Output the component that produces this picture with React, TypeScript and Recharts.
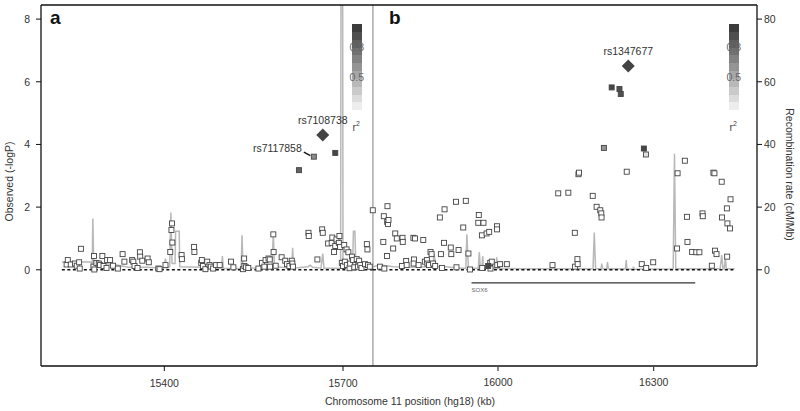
import React from 'react';
import { ComposedChart, Line, ReferenceLine, Scatter, XAxis, YAxis } from 'recharts';

const FONT = '"Liberation Sans", Arial, Helvetica, sans-serif';

// panel a — SNPs with low LD: [position (kb), -logP]
const snpsA: [number, number][] = [
  [15236, 0.17], [15238, 0.31], [15243, 0.17], [15250, 0.2], [15253, 0.13], [15257, 0.24], [15258, 0.04],
  [15260, 0.67], [15281, 0.1], [15282, 0.44], [15282.5, 0.01], [15286, 0.22], [15290, 0.2], [15292, 0.15],
  [15296, 0.44], [15298, 0.12], [15303, 0.06], [15304, 0.31], [15309, 0.31], [15314, 0.13], [15322, 0.04],
  [15330, 0.5], [15333, 0.26], [15346, 0.31], [15348, 0.26], [15350, 0.12], [15355, 0.06], [15359, 0.56],
  [15359.5, 0.42], [15363, 0.29], [15372, 0.36], [15374, 0.24], [15390, 0.04], [15392, 0.02], [15402, 0.15],
  [15410, 0.57], [15412, 1.27], [15413, 1.48], [15413.5, 0.87], [15429, 0.47], [15429.5, 0.34], [15450, 0.73],
  [15450.5, 0.57], [15462, 0.22], [15463, 0.31], [15465, 0.12], [15469, 0.02], [15472, 0.26], [15476, 0.15],
  [15478, 0.1], [15482, 0.04], [15487, 0.15], [15493, 0.15], [15512, 0.26], [15516, 0.08], [15532, 0.02],
  [15534, 0.36], [15534.5, 0.12], [15537, 0.08], [15541, 0.06], [15558, 0.04], [15564, 0.22], [15568, 0.1],
  [15570, 0.31], [15575, 0.36], [15577, 0.33], [15577.5, 0.1], [15583, 1.13], [15583.5, 0.57], [15587, 0.13],
  [15597, 0.4], [15603, 0.29], [15606, 0.18], [15610, 0.12], [15614, 0.29], [15615, 0.2], [15616, 0.1],
  [15642, 1.18], [15642.5, 1.08], [15657, 0.33], [15665, 1.29], [15666, 1.18], [15675, 0.84], [15681, 0.86],
  [15682, 1.03], [15685, 0.57], [15687, 0.76], [15689, 0.97], [15693, 0.86], [15694, 1.08], [15695, 0.73],
  [15698, 0.22], [15700, 0.12], [15702, 0.79], [15703, 0.26], [15706, 0.65], [15706.5, 0.15], [15709, 0.56],
  [15711, 0.05], [15712, 0.2], [15715, 0.42], [15717, 0.31], [15719, 0.08], [15723, 0.34], [15725, 0.1],
  [15727, 0.29], [15729, 0.15], [15731, 0.06], [15737, 0.18], [15740, 0.82], [15741, 0.65], [15742, 0.15],
  [15745, 0.1], [15750, 1.9],
];

// panel b — SNPs with low LD
const snpsB: [number, number][] = [
  [15772.7, 0.1], [15779, 0.89], [15780, 1.71], [15781, 0.04], [15786, 0.44], [15787, 2.03], [15786.5, 1.53],
  [15788, 1.46], [15789, 1.59], [15798, 0.68], [15802, 1.16], [15805, 1.0], [15815, 0.12], [15816, 1.02],
  [15816.5, 0.89], [15823, 0.28], [15824, 0.15], [15837, 1.02], [15838, 0.33], [15837.5, 0.2], [15840, 1.0],
  [15847, 0.15], [15856, 0.95], [15859, 0.26], [15863, 0.31], [15864, 0.2], [15867, 0.15], [15870, 0.57],
  [15872, 0.5], [15875, 0.2], [15879, 0.12], [15888, 1.67], [15890, 0.5], [15892, 0.06], [15896, 0.86],
  [15897, 1.93], [15909, 0.71], [15910, 0.5], [15919, 2.17], [15920, 0.08], [15924, 0.63], [15933, 1.35],
  [15938, 2.2], [15943, 0.52], [15946, 0.01], [15962, 1.5], [15963, 1.75], [15969, 1.1], [15969.5, 0.06],
  [15972, 1.5], [15978, 1.16], [15983, 1.21], [15985, 0.22], [15985.5, 0.04], [15988, 0.26],
  [15998, 1.39], [15998.2, 1.29], [15998.5, 0.15], [16004, 0.18], [16017, 0.18], [16105, 0.15], [16116, 2.44],
  [16135.5, 2.46], [16148, 1.18], [16148.5, 0.1], [16153, 0.34], [16153.5, 0.18], [16155, 3.05], [16156, 3.1],
  [16182.5, 2.36], [16190, 2.01], [16197, 1.9], [16199, 1.8], [16199.5, 1.67], [16248, 3.13], [16277, 0.18],
  [16285.5, 0.06], [16299, 0.24], [16345, 0.68], [16346, 3.08], [16360, 3.48], [16364, 1.69], [16365, 0.89],
  [16374, 0.57], [16382, 0.56], [16388, 0.56], [16394, 1.8], [16394.5, 1.71], [16412, 0.13], [16415, 3.1],
  [16417, 3.08], [16418, 0.61], [16421, 0.5], [16431, 2.81], [16431.5, 1.67], [16441, 1.96], [16442, 1.48],
  [16441.5, 0.42], [16447, 1.32], [16448, 2.25],
];

// SNPs in LD with the lead SNP: [position, -logP, r2]
const ldA: [number, number, number][] = [[15626, 3.18, 0.8], [15651, 3.61, 0.6], [15687, 3.73, 0.95]];
const ldB: [number, number, number][] = [
  [15981, 0.12, 0.95], [16204, 3.89, 0.55], [16219, 5.82, 0.95], [16234, 5.77, 0.9], [16236.5, 5.61, 0.9],
  [16281, 3.87, 0.95], [16285, 3.68, 0.15],
];
const namedA: Record<number, string> = { 15651: 'rs7117858' };

const leadA = [{ pos: 15666, logp: 4.3, name: 'rs7108738' }];
const leadB = [{ pos: 16251, logp: 6.5, name: 'rs1347677' }];

// recombination rate (cM/Mb)
const recombA: [number, number][] = [
  [15228, 2.5], [15277, 2.5], [15279, 1], [15280, 16.4], [15281.5, 2.2], [15300, 2], [15320, 1.5], [15340, 0.8],
  [15370, 0.8], [15399, 0.5], [15402, 3.6], [15404, 0.6], [15409, 1], [15411, 18.3], [15413, 2], [15418, 2],
  [15419, 12.3], [15425, 12.3], [15426, 1], [15460, 0.8], [15496, 0.5], [15497.5, 4.4], [15499, 0.5],
  [15529, 0.4], [15530.5, 11], [15532, 0.4], [15560, 0.6], [15581, 1], [15583, 11.8], [15585, 1], [15614, 0.5],
  [15615.5, 7], [15617, 0.5], [15641, 1], [15645, 1.5], [15649, 0.8], [15663, 0.5], [15666, 5.2], [15668, 0.5],
  [15696, 0.5], [15698, 300], [15700, 0.5], [15716, 1], [15717.5, 12.3], [15720, 12.3], [15721.5, 1], [15750, 1],
];
const recombB: [number, number][] = [
  [15759, 1], [15772, 1.5], [15800, 1], [15830, 0.8], [15860, 1], [15874, 1], [15877, 5], [15880, 1], [15900, 1],
  [15925, 0.5], [15938, 0.5], [15940, 11.3], [15943, 0.5], [15962, 0.5], [15964, 5.7], [15966, 0.5],
  [15969, 0.5], [15970.5, 4.4], [15972, 0.5], [15996, 0.5], [15997.5, 4], [15999, 0.5], [16050, 0.3],
  [16100, 0.3], [16183, 0.3], [16185.5, 11.9], [16188, 0.3], [16198.5, 0.3], [16200, 2], [16201.5, 0.3],
  [16209.5, 0.3], [16211, 2.5], [16212.5, 0.3], [16245.5, 0.3], [16247, 3.1], [16248.5, 0.3], [16260, 0.2],
  [16261, 1], [16262, 0.2], [16337.5, 0.3], [16340, 37], [16342.5, 0.3], [16428, 0.3], [16431, 4.7],
  [16433.5, 0.3], [16436, 0.3], [16438, 4], [16440, 0.3], [16456, 0.3],
];

const xTicksA = [15400, 15700];
const xTicksB = [16000, 16300];
const yTicksL = [0, 2, 4, 6, 8];
const yTicksR = [0, 20, 40, 60, 80];
const panelSplit = 15759;
const baselineA: [number, number] = [15228, 15750];
const baselineB: [number, number] = [15759, 16457];
const gene = { name: 'SOX6', start: 15949, end: 16380, y: -0.42 };
const legendLevels = [1, 0.91, 0.82, 0.73, 0.64, 0.55, 0.45, 0.36, 0.27, 0.18, 0.09, 0];

const shade = (r2: number) => {
  const g = Math.round(255 - r2 * 195);
  return `rgb(${g},${g},${g})`;
};

const toSnp = ([pos, logp]: [number, number]) => ({ pos, logp, r2: 0 });
const toLd = ([pos, logp, r2]: [number, number, number]) => ({ pos, logp, r2, name: namedA[pos] });
const toRate = ([pos, rate]: [number, number]) => ({ pos, rate });

const tickStyle = { fontSize: 10.5, fill: '#333', fontFamily: FONT };
const axisLine = { stroke: '#111', strokeWidth: 1.3 };

function SquareDot(props: any) {
  const { cx, cy, payload } = props;
  if (cx == null || cy == null) return null;
  return (
    <g>
      <rect x={cx - 2.5} y={cy - 2.5} width={5} height={5} fill={shade(payload.r2)} stroke="#444" strokeWidth={0.9} />
      {payload.name && (
        <g>
          <line x1={cx - 10} y1={cy - 4.5} x2={cx - 3.5} y2={cy - 1} stroke="#111" strokeWidth={1.3} />
          <text x={cx - 12} y={cy - 5} textAnchor="end" fontSize={10.5} fill="#333" fontFamily={FONT}>
            {payload.name}
          </text>
        </g>
      )}
    </g>
  );
}

function LeadDiamond(props: any) {
  const { cx, cy, payload } = props;
  if (cx == null || cy == null) return null;
  const h = 6.5;
  return (
    <g>
      <polygon points={`${cx},${cy - h} ${cx + h},${cy} ${cx},${cy + h} ${cx - h},${cy}`} fill="#444" />
      <text x={cx} y={cy - 11} textAnchor="middle" fontSize={10.5} fill="#333" fontFamily={FONT}>
        {payload.name}
      </text>
    </g>
  );
}

function GeneLabel(props: any) {
  const { viewBox } = props;
  return (
    <text x={viewBox.x} y={viewBox.y + 9} fontSize={6} fill="#666" fontFamily={FONT}>
      {gene.name}
    </text>
  );
}

function ColorKey({ left }: { left: number }) {
  const top = 24;
  const h = 94 / legendLevels.length;
  return (
    <>
      {legendLevels.map((lv, i) => (
        <div
          key={i}
          style={{ position: 'absolute', left, top: top + i * h, width: 10.5, height: h + 0.5, background: shade(lv) }}
        />
      ))}
      <div style={{ position: 'absolute', left: left - 2, top: 41, fontSize: 10.5, color: '#666' }}>0.8</div>
      <div style={{ position: 'absolute', left: left - 2, top: 71, fontSize: 10.5, color: '#666' }}>0.5</div>
      <div style={{ position: 'absolute', left: left + 1, top: 120, fontSize: 10.5, color: '#444' }}>
        r<sup style={{ fontSize: 7 }}>2</sup>
      </div>
    </>
  );
}

export default function App() {
  return (
    <div style={{ position: 'absolute', left: 0, top: 0, width: 800, height: 411, background: '#fff', fontFamily: FONT }}>
      <ComposedChart width={800} height={411} margin={{ top: 4, right: 0, bottom: 0, left: 0 }}>
        <XAxis xAxisId="top" orientation="top" type="number" domain={[0, 1]} height={1} tick={false} tickLine={false} axisLine={axisLine} />
        <XAxis
          xAxisId="a"
          dataKey="pos"
          type="number"
          domain={[15193, 16395]}
          allowDataOverflow
          ticks={xTicksA}
          height={1}
          tickSize={5}
          tickMargin={9}
          tick={tickStyle}
          axisLine={axisLine}
          tickLine={{ stroke: '#111' }}
        />
        <XAxis
          xAxisId="b"
          dataKey="pos"
          type="number"
          domain={[15119.5, 16499]}
          allowDataOverflow
          ticks={xTicksB}
          height={44}
          tickSize={4}
          tickMargin={8}
          tick={tickStyle}
          axisLine={false}
          tickLine={{ stroke: '#111' }}
          label={{ value: 'Chromosome 11 position (hg18) (kb)', position: 'center', dx: 11, dy: 12, style: tickStyle }}
        />
        <YAxis
          yAxisId="L"
          type="number"
          domain={[-3.07, 8.45]}
          allowDataOverflow
          ticks={yTicksL}
          width={41}
          tickSize={5}
          tickMargin={6}
          tick={tickStyle}
          axisLine={axisLine}
          tickLine={{ stroke: '#111' }}
          label={{ value: 'Observed (-logP)', angle: -90, position: 'center', dx: -11.5, dy: -4, style: tickStyle }}
        />
        <YAxis
          yAxisId="R"
          orientation="right"
          type="number"
          domain={[-30.7, 84.5]}
          allowDataOverflow
          ticks={yTicksR}
          width={43}
          tickSize={5}
          tickMargin={2}
          tick={tickStyle}
          axisLine={axisLine}
          tickLine={{ stroke: '#111' }}
          label={{ value: 'Recombination rate (cM/Mb)', angle: 90, position: 'center', dx: 11.5, dy: -11, style: tickStyle }}
        />

        <Line xAxisId="a" yAxisId="R" data={recombA.map(toRate)} dataKey="rate" type="linear" stroke="#b8b8b8" strokeWidth={1.5} dot={false} isAnimationActive={false} />
        <Line xAxisId="b" yAxisId="R" data={recombB.map(toRate)} dataKey="rate" type="linear" stroke="#b8b8b8" strokeWidth={1.5} dot={false} isAnimationActive={false} />

        <ReferenceLine xAxisId="b" yAxisId="L" x={panelSplit} stroke="#aaa" strokeWidth={1.5} />
        <ReferenceLine xAxisId="a" yAxisId="L" segment={[{ x: baselineA[0], y: 0 }, { x: baselineA[1], y: 0 }]} stroke="#111" strokeWidth={1.6} strokeDasharray="3 2.5" />
        <ReferenceLine xAxisId="b" yAxisId="L" segment={[{ x: baselineB[0], y: 0 }, { x: baselineB[1], y: 0 }]} stroke="#111" strokeWidth={1.6} strokeDasharray="3 2.5" />
        <ReferenceLine
          xAxisId="b"
          yAxisId="L"
          segment={[{ x: gene.start, y: gene.y }, { x: gene.end, y: gene.y }]}
          stroke="#333"
          strokeWidth={1.2}
          label={<GeneLabel />}
        />

        <Scatter xAxisId="a" yAxisId="L" data={snpsA.map(toSnp)} dataKey="logp" shape={<SquareDot />} isAnimationActive={false} />
        <Scatter xAxisId="b" yAxisId="L" data={snpsB.map(toSnp)} dataKey="logp" shape={<SquareDot />} isAnimationActive={false} />
        <Scatter xAxisId="a" yAxisId="L" data={ldA.map(toLd)} dataKey="logp" shape={<SquareDot />} isAnimationActive={false} />
        <Scatter xAxisId="b" yAxisId="L" data={ldB.map(toLd)} dataKey="logp" shape={<SquareDot />} isAnimationActive={false} />
        <Scatter xAxisId="a" yAxisId="L" data={leadA} dataKey="logp" shape={<LeadDiamond />} isAnimationActive={false} />
        <Scatter xAxisId="b" yAxisId="L" data={leadB} dataKey="logp" shape={<LeadDiamond />} isAnimationActive={false} />
      </ComposedChart>

      <div style={{ position: 'absolute', left: 50, top: 7, fontSize: 19, fontWeight: 'bold', color: '#111' }}>a</div>
      <div style={{ position: 'absolute', left: 389, top: 7, fontSize: 19, fontWeight: 'bold', color: '#111' }}>b</div>
      <ColorKey left={351.5} />
      <ColorKey left={728.5} />
    </div>
  );
}
